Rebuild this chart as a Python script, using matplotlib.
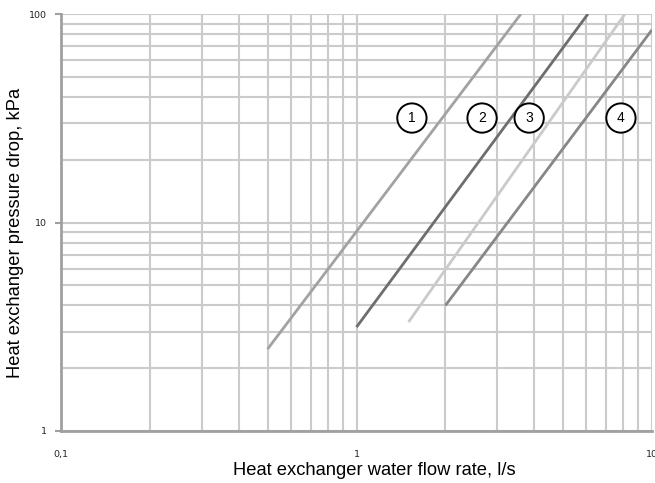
# heat exchanger pressure drop vs water flow rate

import matplotlib.pyplot as plt
from matplotlib.ticker import FixedLocator, FixedFormatter, NullFormatter

# curve end points (flow l/s, pressure drop kPa)
flow_1 = [0.5, 3.6]
drop_1 = [2.47, 100]
flow_2 = [1.0, 6.07]
drop_2 = [3.15, 100]
flow_3 = [1.5, 8.1]
drop_3 = [3.33, 100]
flow_4 = [2.0, 10.0]
drop_4 = [4.0, 84]

# circled curve numbers
tag_text = ['1', '2', '3', '4']
tag_flow = [1.54, 2.66, 3.84, 7.85]
tag_drop = [31.7, 31.7, 31.7, 31.7]

x_ticks = [0.1, 1, 10]
x_tick_labels = ['0,1', '1', '10']
y_ticks = [1, 10, 100]
y_tick_labels = ['1', '10', '100']

fig = plt.figure(figsize=(6.55, 4.83), dpi=100)
ax = fig.add_axes([61 / 655, 52 / 483, 591 / 655, 417 / 483])

ax.set_xscale('log')
ax.set_yscale('log')
ax.set_xlim(0.1, 10)
ax.set_ylim(1, 100)

# grid on both major and minor decades
minor_x = [m * d for d in [0.1, 1] for m in range(2, 10)]
minor_y = [m * d for d in [1, 10] for m in range(2, 10)]
ax.xaxis.set_major_locator(FixedLocator(x_ticks))
ax.xaxis.set_major_formatter(FixedFormatter(x_tick_labels))
ax.xaxis.set_minor_locator(FixedLocator(minor_x))
ax.xaxis.set_minor_formatter(NullFormatter())
ax.yaxis.set_major_locator(FixedLocator(y_ticks))
ax.yaxis.set_major_formatter(FixedFormatter(y_tick_labels))
ax.yaxis.set_minor_locator(FixedLocator(minor_y))
ax.yaxis.set_minor_formatter(NullFormatter())
ax.grid(True, which='both', color='#cbcbcb', lw=1.5)
ax.set_axisbelow(True)

ax.tick_params(axis='x', which='both', length=0, labelsize=6.8, pad=14, labelcolor='#222222')
ax.tick_params(axis='y', which='major', length=4, width=1.5, color='#a0a0a0',
               labelsize=6.8, pad=6, labelcolor='#222222')
ax.tick_params(axis='y', which='minor', length=0)

for side in ['top', 'right']:
    ax.spines[side].set_visible(False)
for side in ['left', 'bottom']:
    ax.spines[side].set_color('#a0a0a0')
    ax.spines[side].set_linewidth(2)

# curves
ax.plot(flow_1, drop_1, color='#a2a2a2', lw=2, solid_capstyle='butt')
ax.plot(flow_2, drop_2, color='#6e6e6e', lw=2, solid_capstyle='butt')
ax.plot(flow_3, drop_3, color='#cacaca', lw=2, solid_capstyle='butt')
ax.plot(flow_4, drop_4, color='#878787', lw=2, solid_capstyle='butt')

for t, fx, dy in zip(tag_text, tag_flow, tag_drop):
    ax.text(fx, dy, t, ha='center', va='center', fontsize=10, fontfamily='Liberation Sans',
            bbox=dict(boxstyle='circle,pad=0.55', fc='white', ec='black', lw=1.4))

ax.set_xlabel('Heat exchanger water flow rate, l/s', fontsize=13.2,
              fontfamily='Liberation Sans')
ax.xaxis.set_label_coords(0.53, -0.074)
ax.set_ylabel('Heat exchanger pressure drop, kPa', fontsize=13.2,
              fontfamily='Liberation Sans')
ax.yaxis.set_label_coords(-0.0626, 0.475)

fig.savefig('out.png', dpi=100)
